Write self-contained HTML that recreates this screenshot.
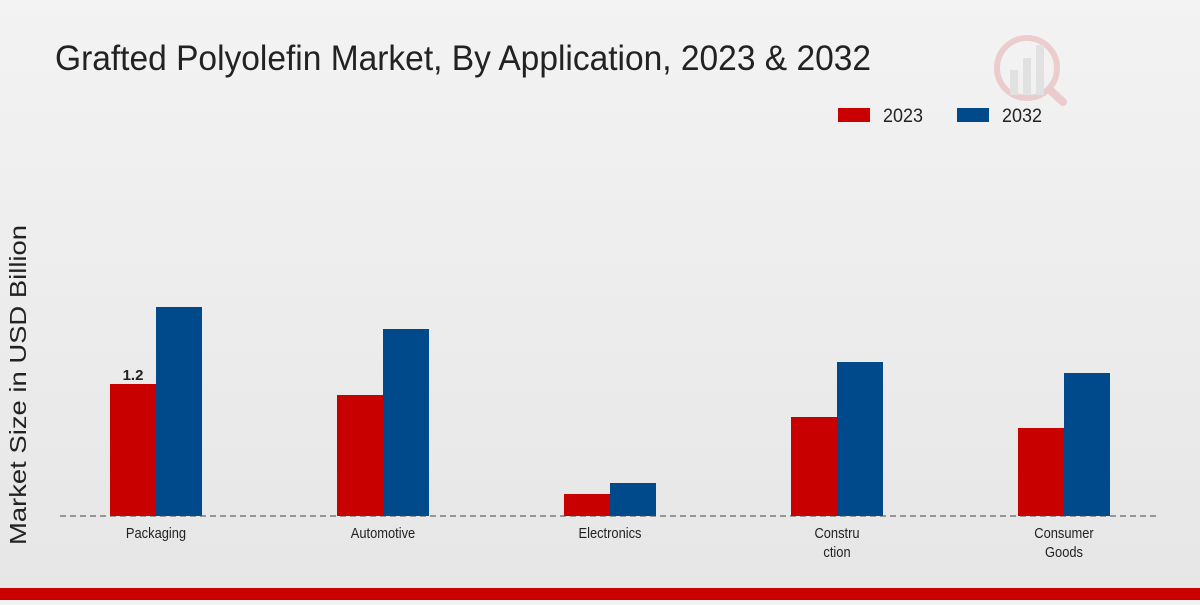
<!DOCTYPE html>
<html><head><meta charset="utf-8"><style>
html,body{margin:0;padding:0;}
body{width:1200px;height:600px;overflow:hidden;background:linear-gradient(180deg,#f3f3f3 0%,#e6e6e6 100%);font-family:"Liberation Sans",sans-serif;}
</style></head><body>
<svg id="chart" width="1200" height="600" xmlns="http://www.w3.org/2000/svg">
<text x="55" y="70" font-size="35" textLength="816" lengthAdjust="spacingAndGlyphs" fill="#222">Grafted Polyolefin Market, By Application, 2023 &amp; 2032</text>
<g opacity="0.15">
<circle cx="1027" cy="68" r="30" fill="none" stroke="#c00" stroke-width="6"/>
<rect x="1010" y="70" width="8" height="25" fill="#888"/><rect x="1023" y="58" width="8" height="37" fill="#888"/><rect x="1036" y="45" width="8" height="50" fill="#888"/>
<line x1="1050" y1="90" x2="1063" y2="102" stroke="#c00" stroke-width="8" stroke-linecap="round"/>
</g>
<g>
<rect x="838" y="108" width="32" height="14" fill="#c80000"/>
<text x="883" y="122" font-size="19" fill="#222" textLength="40" lengthAdjust="spacingAndGlyphs">2023</text>
<rect x="957" y="108" width="32" height="14" fill="#004a8c"/>
<text x="1002" y="122" font-size="19" fill="#222" textLength="40" lengthAdjust="spacingAndGlyphs">2032</text>
</g>
<text transform="translate(26,385) rotate(-90)" text-anchor="middle" font-size="23" fill="#222" textLength="320" lengthAdjust="spacingAndGlyphs">Market Size in USD Billion</text>
<g id="bars"></g>
<line x1="60" y1="516" x2="1160" y2="516" stroke="#444" stroke-width="1" stroke-dasharray="6,4"/>
<g id="labels"></g>
<rect x="0" y="588" width="1200" height="12" fill="#c80000"/>
</svg>
<script>
const categories=[["Packaging"],["Automotive"],["Electronics"],["Constru","ction"],["Consumer","Goods"]];
const values2023=[1.2,1.1,0.2,0.9,0.8];
const values2032=[1.9,1.7,0.3,1.4,1.3];
const shownLabels=["1.2",null,null,null,null];
const NS="http://www.w3.org/2000/svg";
const baseY=516,pxPerUnit=110,firstX=156,step=227,barW=46;
const y=v=>baseY-v*pxPerUnit;
const xc=i=>firstX+i*step;
const bars=document.getElementById('bars'),labels=document.getElementById('labels');
function rect(x,v,fill,name){const r=document.createElementNS(NS,'rect');
r.setAttribute('x',x);r.setAttribute('y',y(v));r.setAttribute('width',barW);r.setAttribute('height',baseY-y(v));r.setAttribute('fill',fill);


bars.appendChild(r);}
categories.forEach((c,i)=>{
rect(xc(i)-barW,values2023[i],'#c80000','bar-2023-'+i);
rect(xc(i),values2032[i],'#004a8c','bar-2032-'+i);
c.forEach((line,j)=>{const t=document.createElementNS(NS,'text');
t.setAttribute('transform','translate('+xc(i)+','+(538+j*19)+') scale(0.86,1)');
t.setAttribute('text-anchor','middle');t.setAttribute('font-size','15');t.setAttribute('fill','#222');
t.textContent=line;


labels.appendChild(t);});
if(shownLabels[i]){const t=document.createElementNS(NS,'text');
t.setAttribute('x',xc(i)-barW/2);t.setAttribute('y',y(values2023[i])-4);t.setAttribute('text-anchor','middle');t.setAttribute('font-size','15');t.setAttribute('font-weight','bold');t.setAttribute('fill','#222');
t.textContent=shownLabels[i];


labels.appendChild(t);}
});
</script>
</body></html>
